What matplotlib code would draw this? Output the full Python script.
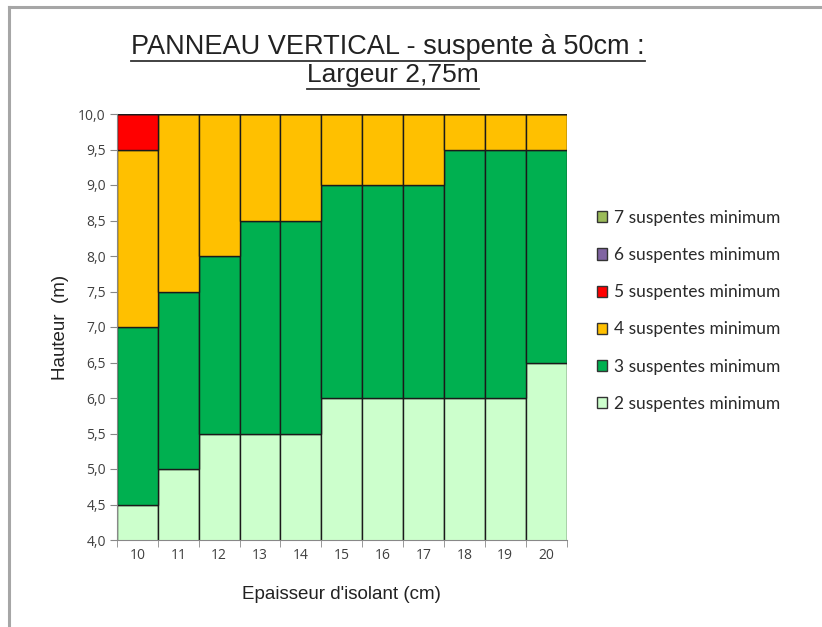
import matplotlib
matplotlib.use("Agg")
import matplotlib.pyplot as plt
from matplotlib.lines import Line2D
from matplotlib.patches import Patch
import numpy as np

# Epaisseur d'isolant (cm)
categories = ["10", "11", "12", "13", "14", "15", "16", "17", "18", "19", "20"]

# Hauteur couverte par chaque nombre de suspentes (m), empilée
s2 = [4.5, 5.0, 5.5, 5.5, 5.5, 6.0, 6.0, 6.0, 6.0, 6.0, 6.5]
s3 = [2.5, 2.5, 2.5, 3.0, 3.0, 3.0, 3.0, 3.0, 3.5, 3.5, 3.0]
s4 = [2.5, 2.5, 2.0, 1.5, 1.5, 1.0, 1.0, 1.0, 0.5, 0.5, 0.5]
s5 = [0.5, 0, 0, 0, 0, 0, 0, 0, 0, 0, 0]
s6 = [0, 0, 0, 0, 0, 0, 0, 0, 0, 0, 0]
s7 = [0, 0, 0, 0, 0, 0, 0, 0, 0, 0, 0]

series = [
    ("2 suspentes minimum", s2, "#CCFFCC"),
    ("3 suspentes minimum", s3, "#00B050"),
    ("4 suspentes minimum", s4, "#FFC000"),
    ("5 suspentes minimum", s5, "#FF0000"),
    ("6 suspentes minimum", s6, "#8064A2"),
    ("7 suspentes minimum", s7, "#9BBB59"),
]

fig = plt.figure(figsize=(8.22, 6.27), dpi=100)
ax = fig.add_axes([117 / 822, 1 - 540 / 627, (566.5 - 117) / 822, (540 - 114) / 627])

x = np.arange(len(categories))
bottom = np.zeros(len(categories))
handles = []
for label, vals, color in series:
    vals = np.array(vals, dtype=float)
    ax.bar(x, vals, bottom=bottom, width=1.0, color=color,
           edgecolor="#1a1a1a", linewidth=1.0)
    bottom += vals
    handles.append(Patch(facecolor=color, edgecolor="#333333", linewidth=1.0, label=label))

ax.set_xlim(-0.5, len(categories) - 0.5)
ax.set_ylim(4.0, 10.0)

yt = np.arange(4.0, 10.01, 0.5)
ax.set_yticks(yt)
ax.set_yticklabels([f"{v:.1f}".replace(".", ",") for v in yt],
                   fontfamily="Open Sans", fontsize=10, color="#404040")
ax.set_xticks(x)
ax.set_xticklabels(categories, fontfamily="Open Sans", fontsize=10, color="#404040")
ax.set_xticks(np.arange(-0.5, len(categories)), minor=True)
ax.tick_params(axis="x", which="major", length=0, pad=6)
ax.tick_params(axis="x", which="minor", length=5, color="#888888", direction="out")
ax.tick_params(axis="y", length=5, color="#888888", direction="out", pad=3)

for side in ["top", "right"]:
    ax.spines[side].set_visible(False)
ax.spines["left"].set_color("#888888")
ax.spines["bottom"].set_color("#888888")

ax.set_ylabel("Hauteur  (m)", fontfamily="Liberation Sans", fontsize=13.5, color="#222222", labelpad=7)
ax.set_xlabel("Epaisseur d'isolant (cm)", fontfamily="Liberation Sans", fontsize=13.5,
              color="#222222", labelpad=16)

# Titre souligné sur deux lignes
t1 = fig.text(0.472, 1 - 47 / 627, "PANNEAU VERTICAL - suspente à 50cm :",
              ha="center", va="center", fontfamily="Liberation Sans", fontsize=19.5, color="#222222")
t2 = fig.text(0.478, 1 - 75 / 627, "Largeur 2,75m",
              ha="center", va="center", fontfamily="Liberation Sans", fontsize=19, color="#222222")
fig.canvas.draw()
renderer = fig.canvas.get_renderer()
for t, y_px in ((t1, 61), (t2, 89)):
    bb = t.get_window_extent(renderer).transformed(fig.transFigure.inverted())
    fig.add_artist(Line2D([bb.x0, bb.x1], [1 - y_px / 627, 1 - y_px / 627], color="#333333", lw=1.3))

# Légende dans l'ordre inverse de l'empilement
leg = fig.legend(handles=handles[::-1], loc="upper left",
                 bbox_to_anchor=(590 / 822, 1 - 203 / 627), frameon=False,
                 prop={"family": "Lato", "size": 12.5}, handlelength=0.6, handleheight=0.6,
                 handletextpad=0.4, labelspacing=1.22, borderaxespad=0)
for t in leg.get_texts():
    t.set_color("#2a2a2a")

# Cadre gris du graphique
fig.add_artist(Line2D([8.5 / 822, 1.0], [1 - 7 / 627, 1 - 7 / 627], color="#A6A6A6", lw=2.2))
fig.add_artist(Line2D([8.5 / 822, 8.5 / 822], [0.0, 1 - 7 / 627], color="#A6A6A6", lw=2.2))

fig.savefig("out.png", dpi=100, facecolor="white")
